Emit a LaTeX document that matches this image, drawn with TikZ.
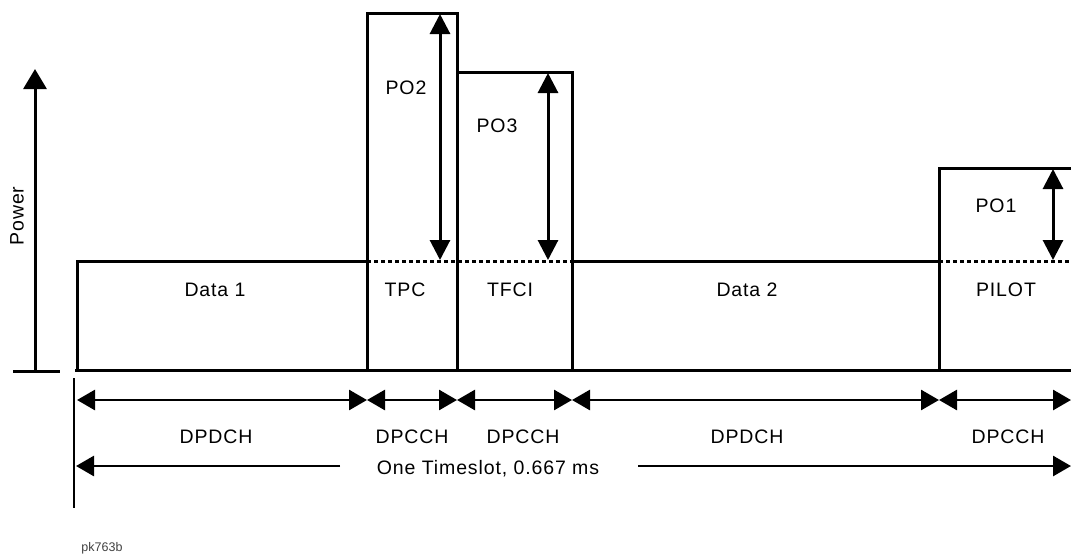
\documentclass[tikz,border=0pt]{standalone}
\usepackage{fontspec}
\setmainfont{Liberation Sans}
\newfontfamily\figfont[LetterSpace=4.5]{Liberation Sans}
\usetikzlibrary{arrows.meta}

\tikzset{
  dimtip/.tip={Triangle[length=18pt,width=20pt]},
  potip/.tip={Triangle[length=20pt,width=20pt]},
  slotline/.style={line width=3pt, line cap=butt, line join=miter},
  levelline/.style={line width=3pt, dash pattern=on 4pt off 3pt},
  dimarrow/.style={line width=2.8pt, dimtip-dimtip},
  poarrow/.style={line width=3pt, potip-potip},
  lbl/.style={inner sep=0pt, font=\figfont\fontsize{19.5}{22}\selectfont},
}

\begin{document}
\begin{tikzpicture}[x=1pt, y=-1pt]
% 1 unit = 1 pixel of the original figure, y pointing down
\useasboundingbox (0,0) rectangle (1071,558);
\def\base{370}
\def\lvl{261}

% Power axis
\coordinate (axbot) at (35,371);
\coordinate (axtop) at (35,69);
\draw[line width=3pt, -{Triangle[length=20pt,width=23pt]}] (axbot) -- (axtop);
\draw[line width=3pt] (13,371) -- (60,371);
\node[lbl, rotate=90] (power) at (17,216) {Power};

% Slot boxes
\draw[slotline] (75,\base) -- (1071,\base);
\draw[slotline] (77,\base) -- (77,\lvl) -- (367,\lvl);
\draw[slotline] (367,\base) -- (367,13) -- (457,13) -- (457,\base);
\draw[slotline] (457,72) -- (572,72) -- (572,\base);
\draw[slotline] (572,\lvl) -- (939,\lvl);
\draw[slotline] (939,\base) -- (939,168) -- (1071,168);

% Nominal level inside the raised fields
\draw[levelline] (367,\lvl) -- (572,\lvl);
\draw[levelline] (939,\lvl) -- (1071,\lvl);

% Field names
\node[lbl] (data1) at (215,290) {Data 1};
\node[lbl] (tpc) at (405,290) {TPC};
\node[lbl] (tfci) at (510,290) {TFCI};
\node[lbl] (data2) at (747,290) {Data 2};
\node[lbl] (pilot) at (1006,290) {PILOT};

% Power offsets
\coordinate (po2top) at (440,14);
\coordinate (po2bot) at (440,260);
\coordinate (po3top) at (548,73);
\coordinate (po3bot) at (548,260);
\coordinate (po1top) at (1053,169);
\coordinate (po1bot) at (1053,260);
\draw[poarrow] (po2top) -- (po2bot);
\draw[poarrow] (po3top) -- (po3bot);
\draw[poarrow] (po1top) -- (po1bot);
\node[lbl] (po2) at (406,88) {PO2};
\node[lbl] (po3) at (497,126) {PO3};
\node[lbl] (po1) at (996,206) {PO1};

% Channel spans
\coordinate (d0) at (77,400);
\coordinate (d1) at (367,400);
\coordinate (d2) at (457,400);
\coordinate (d3) at (572,400);
\coordinate (d4) at (939,400);
\coordinate (d5) at (1071,400);
\draw[dimarrow] (d0) -- (d1);
\draw[dimarrow] (d1) -- (d2);
\draw[dimarrow] (d2) -- (d3);
\draw[dimarrow] (d3) -- (d4);
\draw[dimarrow] (d4) -- (d5);
\node[lbl] (ch1) at (216,437) {DPDCH};
\node[lbl] (ch2) at (412,437) {DPCCH};
\node[lbl] (ch3) at (523,437) {DPCCH};
\node[lbl] (ch4) at (747,437) {DPDCH};
\node[lbl] (ch5) at (1008,437) {DPCCH};

% Timeslot
\draw[line width=2.8pt] (74,378) -- (74,508);
\node[lbl] (slot) at (488,469) {One Timeslot, 0.667 ms};
\coordinate (tsa) at (340,466);
\coordinate (tsb) at (638,466);
\coordinate (tsl) at (76,466);
\coordinate (tsr) at (1071,466);
\draw[line width=2.8pt, -dimtip] (tsa) -- (tsl);
\draw[line width=2.8pt, -dimtip] (tsb) -- (tsr);

\node[inner sep=0pt, font=\fontsize{12.5}{14}\selectfont, color=black!75] (tag) at (102,548) {pk763b};
\end{tikzpicture}
\end{document}
